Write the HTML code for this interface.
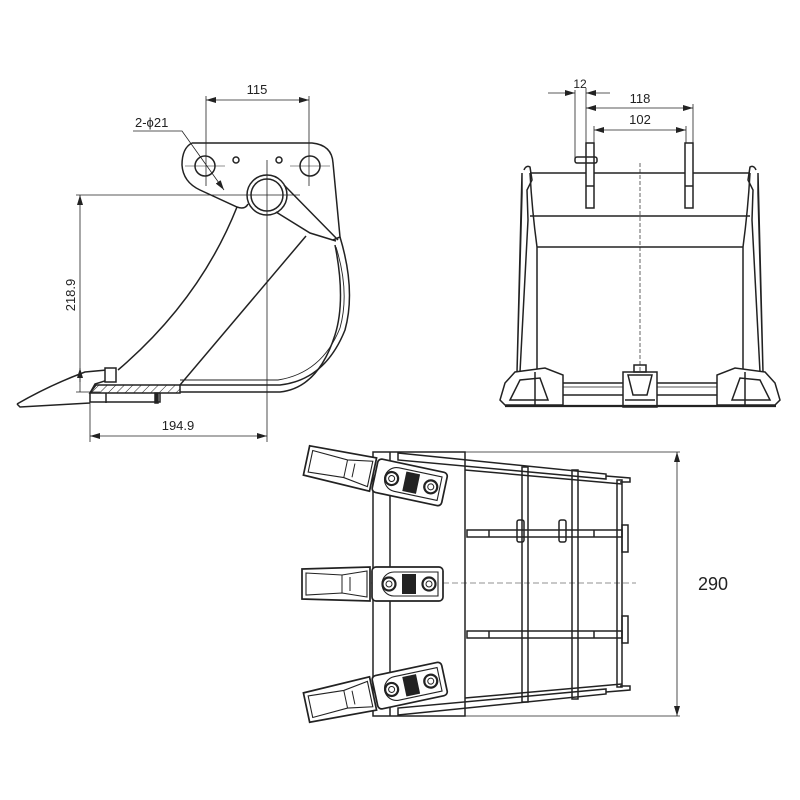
<!DOCTYPE html>
<html><head><meta charset="utf-8"><style>
html,body{margin:0;padding:0;background:#fff;width:800px;height:800px;overflow:hidden}
text{font-family:"Liberation Sans",sans-serif;fill:#222}
</style></head><body>
<svg width="800" height="800" viewBox="0 0 800 800" xmlns="http://www.w3.org/2000/svg">
<defs>
<marker id="ar" viewBox="0 0 10 6" refX="10" refY="3" markerWidth="10" markerHeight="6" orient="auto-start-reverse" markerUnits="userSpaceOnUse"><path d="M0,0L10,3L0,6Z" fill="#222"/></marker>
<pattern id="hatch" width="6" height="6" patternUnits="userSpaceOnUse" patternTransform="rotate(45)"><line x1="0" y1="0" x2="0" y2="6" stroke="#222" stroke-width="1"/></pattern>
<g id="tooth">
<path d="M-70,-15 L-2,-17 L-2,17 L-70,15 Z" fill="#fff" stroke="#222" stroke-width="1.7"/>
<path d="M-66,-11 L-30,-9 L-5,-13 L-5,13 L-30,9 L-66,11 Z" fill="none" stroke="#222" stroke-width="1.1"/>
<line x1="-30" y1="-9" x2="-30" y2="9" stroke="#222"/>
<line x1="-22" y1="-7" x2="-22" y2="7" stroke="#222"/>
<rect x="0" y="-17" width="71" height="34" rx="4" fill="#fff" stroke="#222" stroke-width="1.7"/>
<path d="M22,-12 L66,-12 L66,12 L22,12 A12,12 0 0 1 22,-12Z" fill="none" stroke="#222" stroke-width="1.1"/>
<circle cx="17" cy="0" r="6.5" fill="#fff" stroke="#222" stroke-width="2.2"/><circle cx="17" cy="0" r="3" fill="none" stroke="#222"/>
<circle cx="57" cy="0" r="6.5" fill="#fff" stroke="#222" stroke-width="2.2"/><circle cx="57" cy="0" r="3" fill="none" stroke="#222"/>
<rect x="30" y="-10" width="14" height="20" fill="#222"/>
</g>
</defs>

<g fill="none" stroke="#222" stroke-width="1.5">
<!-- SIDE VIEW -->
<line x1="206" y1="96" x2="206" y2="186" stroke-width="0.8"/>
<line x1="309" y1="96" x2="309" y2="186" stroke-width="0.8"/>
<line x1="206" y1="100" x2="309" y2="100" stroke-width="0.8" marker-start="url(#ar)" marker-end="url(#ar)"/>
<polyline points="133,131 182,131 224,190" stroke-width="0.8" marker-end="url(#ar)"/>
<path d="M192,143 L312,143 Q332,145 333,163 L340,237 L333,240 M192,143 Q182,148 182,165 Q183,182 200,190 L237,207 Q245,210 248,204"/>
<circle cx="205" cy="166" r="10"/><circle cx="310" cy="166" r="10"/>
<circle cx="236" cy="160" r="3"/><circle cx="279" cy="160" r="3"/>
<line x1="185" y1="166" x2="225" y2="166" stroke-width="0.6"/><line x1="290" y1="166" x2="330" y2="166" stroke-width="0.6"/>
<circle cx="267" cy="195" r="20"/><circle cx="267" cy="195" r="16"/>
<path d="M284,185 L338,240 M276,212 L310,233 L336,241"/>
<path d="M237,207 Q200,300 118,370"/>
<path d="M340,237 Q356,290 345,330 Q325,380 280,385 L180,385"/>
<path d="M336,247 Q350,292 340,328 Q322,373 278,380 L180,380" stroke-width="0.9"/>
<path d="M335,245 Q346,300 335,335 Q318,388 280,392 L180,392"/>
<line x1="180" y1="385" x2="306" y2="236"/>
<path d="M96,385 L180,385 L180,393 L90,393 Z" fill="url(#hatch)"/>
<path d="M17,404 Q50,385 85,372 L107,370 L108,380 L95,384 L90,393 L90,402 L160,402 L160,393 M17,404 L20,407 L90,403"/>
<rect x="105" y="368" width="11" height="14" fill="#fff"/>
<line x1="106" y1="393" x2="106" y2="403"/><rect x="155" y="393" width="3" height="10" fill="#222"/>
<line x1="76" y1="195" x2="300" y2="195" stroke-width="0.8"/>
<line x1="80" y1="195" x2="80" y2="392" stroke-width="0.8" marker-start="url(#ar)"/>
<line x1="80" y1="368" x2="80" y2="382" stroke-width="0.8" marker-start="url(#ar)"/>
<line x1="76" y1="392" x2="100" y2="392" stroke-width="0.8"/>
<line x1="267" y1="160" x2="267" y2="442" stroke-width="0.8"/>
<line x1="90" y1="393" x2="90" y2="442" stroke-width="0.8"/>
<line x1="90" y1="436" x2="267" y2="436" stroke-width="0.8" marker-start="url(#ar)" marker-end="url(#ar)"/>

<!-- FRONT VIEW -->
<line x1="548" y1="93" x2="575" y2="93" stroke-width="0.8" marker-end="url(#ar)"/>
<line x1="610" y1="93" x2="586" y2="93" stroke-width="0.8" marker-end="url(#ar)"/>
<line x1="575" y1="90" x2="575" y2="160" stroke-width="0.8"/>
<line x1="586" y1="88" x2="586" y2="143" stroke-width="0.8"/>
<line x1="693" y1="104" x2="693" y2="143" stroke-width="0.8"/>
<line x1="594" y1="126" x2="594" y2="143" stroke-width="0.8"/>
<line x1="686" y1="126" x2="686" y2="143" stroke-width="0.8"/>
<line x1="586" y1="108" x2="693" y2="108" stroke-width="0.8" marker-start="url(#ar)" marker-end="url(#ar)"/>
<line x1="594" y1="130" x2="686" y2="130" stroke-width="0.8" marker-start="url(#ar)" marker-end="url(#ar)"/>
<rect x="586" y="143" width="8" height="65" fill="#fff"/><line x1="586" y1="186" x2="594" y2="186"/>
<rect x="685" y="143" width="8" height="65" fill="#fff"/><line x1="685" y1="186" x2="693" y2="186"/>
<rect x="575" y="157" width="22" height="6" rx="2"/>
<line x1="530" y1="173" x2="586" y2="173"/><line x1="594" y1="173" x2="685" y2="173"/><line x1="693" y1="173" x2="750" y2="173"/>
<line x1="530" y1="216" x2="750" y2="216"/>
<line x1="537" y1="247" x2="743" y2="247"/>
<path d="M530,173 Q532,210 537,247 L537,370 M750,173 Q748,210 743,247 L743,370"/>
<path d="M524,170 Q526,165 530,167 L532,180 L527,190 L528,220 L520,372 M517,372 L522,193 L522,173 Z"/>
<path d="M756,170 Q754,165 750,167 L748,180 L753,190 L752,220 L760,372 M763,372 L758,193 L758,173 Z"/>
<line x1="640" y1="163" x2="640" y2="385" stroke-dasharray="4,2" stroke-width="0.7"/>
<rect x="550" y="383" width="180" height="12" fill="#fff"/>
<line x1="550" y1="387" x2="730" y2="387" stroke-width="0.7"/>
<path d="M505,383 L515,372 L545,368 L563,375 L563,405 L505,405 L500,400 Z" fill="#fff"/>
<path d="M510,400 L520,380 L540,378 L548,400 Z M535,372 L535,405"/>
<path d="M775,383 L765,372 L735,368 L717,375 L717,405 L775,405 L780,400 Z" fill="#fff"/>
<path d="M770,400 L760,380 L740,378 L732,400 Z M745,372 L745,405"/>
<rect x="623" y="372" width="34" height="35" fill="#fff"/>
<path d="M628,375 L652,375 L647,395 L633,395 Z M625,400 L655,400"/>
<rect x="634" y="365" width="12" height="7"/>
<line x1="505" y1="406" x2="776" y2="406" stroke-width="2.2"/>

<!-- TOP VIEW -->
<rect x="373" y="452" width="92" height="264"/>
<line x1="390" y1="452" x2="390" y2="716"/>
<line x1="465" y1="452" x2="680" y2="452" stroke-width="0.8"/>
<line x1="465" y1="716" x2="680" y2="716" stroke-width="0.8"/>
<line x1="677" y1="452" x2="677" y2="716" stroke-width="0.8" marker-start="url(#ar)" marker-end="url(#ar)"/>
<path d="M398,453 L606,474 L606,479 L398,460 Z"/>
<path d="M398,715 L606,694 L606,689 L398,708 Z"/>
<path d="M606,476 L630,478 L630,482 L620,482 M606,692 L630,690 L630,686 L620,686"/>
<line x1="465" y1="470" x2="622" y2="484"/>
<line x1="465" y1="698" x2="622" y2="684"/>
<rect x="522" y="467" width="6" height="235"/>
<rect x="572" y="470" width="6" height="229"/>
<rect x="617" y="480" width="5" height="207"/>
<rect x="467" y="530" width="155" height="7"/><line x1="489" y1="530" x2="489" y2="537"/><line x1="594" y1="530" x2="594" y2="537"/>
<rect x="467" y="631" width="155" height="7"/><line x1="489" y1="631" x2="489" y2="638"/><line x1="594" y1="631" x2="594" y2="638"/>
<rect x="622" y="525" width="6" height="27"/><rect x="622" y="616" width="6" height="27"/>
<rect x="517" y="520" width="7" height="22" rx="2"/><rect x="559" y="520" width="7" height="22" rx="2"/>
<line x1="362" y1="583" x2="636" y2="583" stroke-dasharray="6,3" stroke-width="0.6"/>
</g>
<use href="#tooth" x="372" y="584"/>
<use href="#tooth" transform="translate(375,475) rotate(12)"/>
<use href="#tooth" transform="translate(375,693) rotate(-12)"/>

<text x="257" y="94" font-size="13" text-anchor="middle">115</text>
<text x="135" y="127" font-size="13">2-ϕ21</text>
<text x="75" y="295" font-size="13" text-anchor="middle" transform="rotate(-90 75 295)">218.9</text>
<text x="178" y="430" font-size="13" text-anchor="middle">194.9</text>
<text x="580" y="88" font-size="12" text-anchor="middle">12</text>
<text x="640" y="103" font-size="13" text-anchor="middle">118</text>
<text x="640" y="124" font-size="13" text-anchor="middle">102</text>
<text x="713" y="590" font-size="18" text-anchor="middle">290</text>
</svg>
</body></html>
